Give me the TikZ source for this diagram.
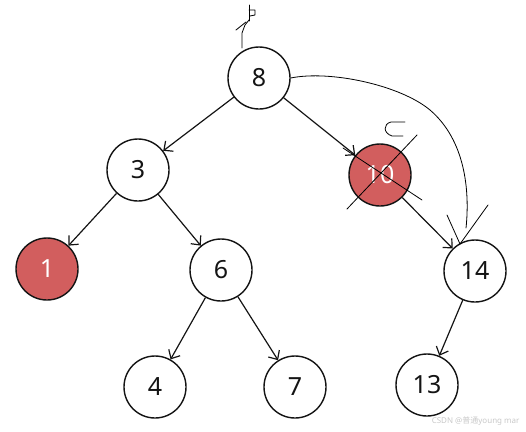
\documentclass[tikz,border=0pt]{standalone}
\usepackage{fontspec}
\setmainfont{Noto Sans}
\newfontfamily\cjkfont{Noto Sans CJK SC}
\usepackage{tikz}
\usetikzlibrary{arrows.meta, positioning}
\definecolor{nodered}{RGB}{210,94,94}
\definecolor{mydark}{RGB}{20,20,20}
\definecolor{markgrey}{RGB}{200,200,200}
\tikzset{
  bnode/.style={circle, draw=mydark, fill=white, minimum size=62pt,
    inner sep=0pt, line width=1.4pt, font=\fontsize{25}{28}\selectfont, text=mydark},
  rnode/.style={bnode, fill=nodered, text=white},
  arrow/.style={-{Straight Barb[length=7pt,width=13pt]}, line width=1.2pt, color=mydark},
  pen/.style={line width=0.8pt, color=black, line cap=round, line join=round}
}

\begin{document}
\begin{tikzpicture}[x=1pt, y=-1pt]
  \useasboundingbox (0,0) rectangle (526,431);
  \node[bnode] (n8) at (259,78) {8};
  \node[bnode] (n3) at (138,170) {3};
  \node[rnode] (n10) at (380,175) {10};
  \node[rnode] (n1) at (47,269) {1};
  \node[bnode] (n6) at (221,270) {6};
  \node[bnode] (n14) at (475,271) {14};
  \node[bnode] (n4) at (155,387) {4};
  \node[bnode] (n7) at (295,387) {7};
  \node[bnode] (n13) at (427,385) {13};

  \draw[arrow] (n8) -- (n3);
  \draw[arrow] (n8) -- (n10);
  \draw[arrow] (n3) -- (n1);
  \draw[arrow] (n3) -- (n6);
  \draw[arrow] (n10) -- (n14);
  \draw[arrow] (n6) -- (n4);
  \draw[arrow] (n6) -- (n7);
  \draw[arrow] (n14) -- (n13);

  % pen marks
  \coordinate (top) at (242,48);
  \draw[pen] (top) -- (242,33) -- (245,25) -- (249,20);
  \draw[pen] (236,30) -- (246,22);
  \draw[pen] (249,21) -- (249,5);
  \draw[pen] (249,10) -- (255,10) -- (255,15) -- (250,16);
  \coordinate (tip) at (460,244);
  \draw[pen] (n8.east) .. controls (330,70) and (400,85) .. (430,110)
    .. controls (465,140) and (470,190) .. (466,228);
  \draw[pen] (447,215) -- (tip) -- (488,205);
  \draw[pen] (343,148) -- (422,200);
  \draw[pen] (347,209) -- (417,135);
  \draw[pen] (405,122) -- (391,122) .. controls (383,124) and (383,133) .. (392,136) -- (403,136);

  \node[font=\fontsize{8}{9}\selectfont, text=markgrey, anchor=east] (mark) at (523,421) {CSDN @{\cjkfont 普通}young mar};
\end{tikzpicture}
\end{document}
